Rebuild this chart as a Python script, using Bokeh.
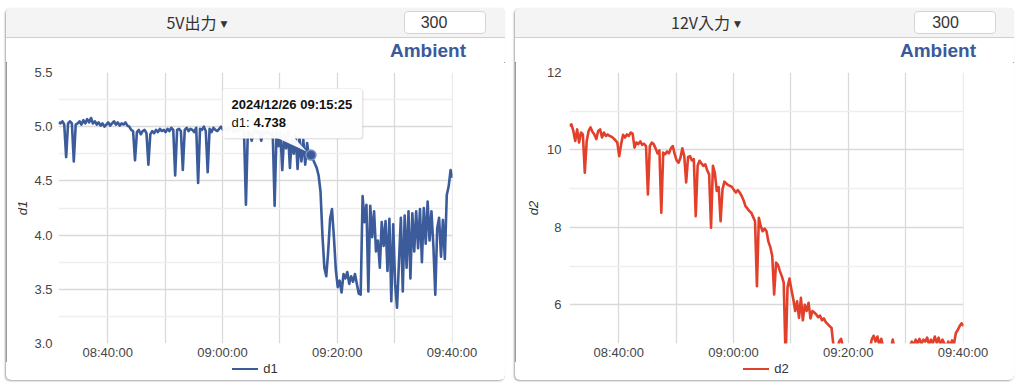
import pandas as pd
from bokeh.plotting import figure
from bokeh.models import (ColumnDataSource, Range1d, FixedTicker, DatetimeTickFormatter,
                          PrintfTickFormatter, Label, BoxAnnotation,
                          PolyAnnotation, Div)
from bokeh.layouts import row, column
from bokeh.embed import file_html
from bokeh.resources import INLINE

# ---------------- data ----------------
DAY = "2024-12-26"
t_start = "08:31:25"
t_step_s = 20

d1 = [5.04, 5.03, 5.05, 5.02, 4.72, 5.03, 5.05, 5.03, 4.68, 5.02,
      5.03, 5.05, 5.02, 5.06, 5.03, 5.07, 5.04, 5.08, 5.03, 5.05,
      5.02, 5.04, 5.01, 5.03, 5.00, 5.02, 5.04, 5.01, 5.03, 5.05,
      5.02, 5.04, 5.01, 5.03, 5.02, 5.04, 5.01, 5.00, 4.97, 4.96,
      4.69, 4.95, 4.97, 4.93, 4.96, 4.97, 4.94, 4.65, 4.93, 4.96,
      4.94, 4.97, 4.95, 4.98, 4.96, 4.97, 4.95, 4.98, 4.96, 4.99,
      4.97, 4.55, 4.97, 4.98, 4.96, 4.60, 4.97, 4.99, 4.96, 4.98,
      4.97, 4.95, 4.99, 4.48, 4.98, 4.97, 5.00, 4.96, 4.58, 4.98,
      4.95, 4.99, 4.97, 4.96, 4.98, 5.00, 4.97, 4.99, 4.96, 4.98,
      5.00, 4.97, 4.95, 4.98, 4.96, 4.99, 4.97, 4.95, 4.28, 4.96,
      4.94, 4.87, 4.95, 4.97, 4.94, 4.96, 4.87, 4.95, 4.93, 4.96,
      4.94, 4.92, 4.95, 4.27, 4.95, 4.82, 4.95, 4.60, 4.93, 4.80,
      4.95, 4.62, 4.90, 4.75, 4.92, 4.61, 4.90, 4.68, 4.88, 4.65,
      4.85, 4.71, 4.738, 4.70, 4.66, 4.62, 4.55, 4.40, 4.00, 3.70,
      3.62, 3.85, 4.15, 4.24, 3.98, 3.68, 3.52, 3.58, 3.47, 3.64,
      3.60, 3.66, 3.55, 3.62, 3.57, 3.64, 3.55, 3.46, 3.45, 4.36,
      4.12, 4.28, 3.48, 4.27, 3.98, 4.22, 3.85, 3.95, 3.70, 4.12,
      3.90, 4.13, 3.67, 4.15, 3.39, 4.10, 3.55, 3.33, 3.75, 4.16,
      3.48, 4.18, 3.70, 4.22, 3.60, 4.20, 3.85, 4.22, 3.88, 4.24,
      3.75, 4.25, 3.92, 4.31, 3.95, 4.22, 3.90, 3.45, 4.06, 4.16,
      3.80, 4.14, 3.78, 4.37, 4.45, 4.60, 4.53]

d2 = [10.62, 10.66, 10.49, 10.23, 10.53, 10.19, 10.45, 10.40, 9.41, 10.23,
      10.49, 10.58, 10.47, 10.40, 10.28, 10.49, 10.53, 10.32, 10.45, 10.36,
      10.40, 10.36, 10.34, 10.30, 10.25, 10.19, 9.84, 10.15, 10.39, 10.32,
      10.40, 10.36, 10.45, 10.42, 10.06, 10.19, 10.15, 10.22, 10.13, 10.16,
      10.10, 8.85, 10.10, 10.19, 10.15, 10.04, 9.91, 9.99, 8.38, 9.93,
      9.89, 9.96, 9.91, 10.04, 10.10, 9.89, 9.73, 9.67, 9.80, 10.04,
      9.84, 9.16, 9.82, 9.84, 9.73, 9.76, 8.29, 9.59, 9.72, 9.65,
      9.59, 9.63, 9.47, 9.37, 7.99, 9.59, 9.41, 8.94, 9.04, 8.16,
      8.98, 9.18, 9.13, 9.09, 9.07, 9.04, 8.96, 8.90, 8.96, 8.90,
      8.81, 8.70, 8.55, 8.49, 8.42, 8.38, 8.27, 8.16, 6.48, 8.25,
      8.03, 7.90, 7.97, 7.90, 7.63, 7.49, 7.26, 6.27, 7.09, 7.03,
      6.87, 6.74, 6.57, 4.60, 6.45, 6.68, 6.40, 6.15, 5.84, 6.09,
      5.66, 6.18, 5.60, 6.00, 5.84, 6.05, 5.65, 5.84, 5.80, 5.75,
      5.68, 5.72, 5.60, 5.65, 5.55, 5.50, 5.45, 5.40, 4.95, 4.75,
      4.85, 5.05, 5.12, 4.90, 4.70, 4.70, 4.80, 4.65, 4.75, 4.80,
      4.70, 4.85, 4.75, 4.80, 4.70, 4.75, 4.80, 4.85, 5.10, 5.20,
      5.05, 5.18, 4.95, 5.12, 4.90, 4.85, 4.80, 4.90, 4.85, 5.10,
      4.85, 4.80, 4.85, 4.75, 4.80, 4.85, 4.90, 4.90, 4.95, 5.05,
      4.95, 5.10, 5.00, 5.12, 4.98, 5.10, 5.05, 5.15, 4.97, 5.10,
      5.00, 5.18, 5.02, 5.15, 4.95, 5.10, 5.00, 4.90, 5.05, 4.95,
      5.08, 4.98, 5.27, 5.35, 5.45, 5.52, 5.45]

x_tick_labels = ["08:40:00", "09:00:00", "09:20:00", "09:40:00"]
x_grid_labels = ["08:40:00", "08:50:00", "09:00:00", "09:10:00",
                 "09:20:00", "09:30:00", "09:40:00"]
d1_ticks = [3.0, 3.5, 4.0, 4.5, 5.0, 5.5]
d1_minor = [3.25, 3.75, 4.25, 4.75, 5.25]
d2_ticks = [6, 8, 10, 12]
d2_minor = [5, 7, 9, 11]
panel_titles = ["5V出力", "12V入力"]
count_text = "300"
brand = "Ambient"
hover_time = "09:15:25"
hover_value = 4.738

# ---------------- styling ----------------
BLUE = "#3b5b9a"
RED = "#e2402a"
BRAND = "#3a5a9c"
FONT = "Liberation Sans"
CJK = "Noto Sans CJK JP"
W = 499
HEAD_H = 54
FIG_TOP = 10
FIG_BOTTOM = 19
FRAME_H = 271
FIG_H = FIG_TOP + FRAME_H + FIG_BOTTOM
LEG_H = 18


def ms(hms):
    return pd.Timestamp(f"{DAY} {hms}").value / 1e6


def header(title, box_left, text_shift, brand_right):
    html = (
        f'<div style="position:relative;width:{W}px;height:{HEAD_H}px;background:#fff;">'
        f'<div style="position:absolute;left:0;top:0;width:{W}px;height:30px;box-sizing:border-box;'
        f'background:#f4f4f4;border-bottom:1px solid #cfcfcf;"></div>'
        f'<div style="position:absolute;left:0;top:0;width:382px;height:29px;line-height:29px;'
        f'text-align:center;font-family:\'{CJK}\';font-size:16px;color:#333;white-space:nowrap;">'
        f'{title}<span style="font-family:\'DejaVu Sans\';font-size:9px;margin-left:4px;'
        f'vertical-align:2px;">&#9660;</span></div>'
        f'<div style="position:absolute;left:{box_left}px;top:3px;width:82px;height:23px;'
        f'box-sizing:border-box;background:#fff;border:1px solid #d4d4d4;border-radius:4px;'
        f'font-family:\'{FONT}\';font-size:16px;line-height:21px;color:#333;text-align:center;'
        f'padding-right:{text_shift}px;">{count_text}</div>'
        f'<div style="position:absolute;right:{W - brand_right}px;top:33px;height:19px;'
        f'line-height:19px;font-family:\'{FONT}\';font-size:19px;font-weight:bold;'
        f'color:{BRAND};white-space:nowrap;">{brand}</div>'
        f'</div>'
    )
    return Div(text=html, width=W, height=HEAD_H, margin=0)


def legend_div(name, color, frame_l, frame_r):
    html = (
        f'<div style="position:relative;width:{W}px;height:{LEG_H}px;background:#fff;">'
        f'<div style="position:absolute;left:{frame_l}px;width:{frame_r - frame_l}px;top:0;'
        f'height:14px;display:flex;align-items:center;justify-content:center;">'
        f'<span style="display:inline-block;width:26px;height:0;'
        f'border-top:2.6px solid {color};margin-right:5px;"></span>'
        f'<span style="font-family:\'{FONT}\';font-size:13px;color:#333;">{name}</span>'
        f'</div></div>'
    )
    return Div(text=html, width=W, height=LEG_H, margin=0)


def make_panel(name, values, color, y_lo, y_hi, ticks, minor, fmt,
               frame_l, frame_r, label_standoff, axis_label_standoff):
    times = pd.date_range(pd.Timestamp(f"{DAY} {t_start}"), periods=len(values),
                          freq=f"{t_step_s}s")
    src = ColumnDataSource(dict(t=times, v=values))
    p = figure(width=W, height=FIG_H, x_axis_type="datetime",
               x_range=Range1d(times[0], times[-1]), y_range=Range1d(y_lo, y_hi),
               output_backend="svg", toolbar_location=None, title=None,
               min_border_left=frame_l, min_border_right=W - frame_r,
               min_border_top=FIG_TOP, min_border_bottom=FIG_BOTTOM, margin=0)
    p.background_fill_color = "white"
    p.border_fill_color = "white"
    p.outline_line_color = None

    for ax in (p.xaxis[0], p.yaxis[0]):
        ax.axis_line_color = None
        ax.major_tick_line_color = None
        ax.minor_tick_line_color = None
        ax.major_tick_out = 0
        ax.major_tick_in = 0
        ax.minor_tick_out = 0
        ax.minor_tick_in = 0
        ax.major_label_text_font = FONT
        ax.major_label_text_font_size = "13px"
        ax.major_label_text_color = "#444444"
    p.xaxis.ticker = FixedTicker(ticks=[ms(s) for s in x_tick_labels])
    p.xaxis.formatter = DatetimeTickFormatter(
        seconds="%H:%M:%S", minsec="%H:%M:%S", minutes="%H:%M:%S",
        hourmin="%H:%M:%S", hours="%H:%M:%S")
    p.xaxis.major_label_standoff = 1
    p.xgrid.ticker = FixedTicker(ticks=[ms(s) for s in x_grid_labels])
    p.xgrid.grid_line_color = "#d9d9d9"
    p.xgrid.grid_line_width = 1.3

    yt = FixedTicker(ticks=ticks, minor_ticks=minor)
    p.yaxis.ticker = yt
    p.ygrid.ticker = yt
    p.yaxis.formatter = PrintfTickFormatter(format=fmt)
    p.yaxis.major_label_standoff = label_standoff
    p.yaxis.axis_label = name
    p.yaxis.axis_label_text_font = FONT
    p.yaxis.axis_label_text_font_style = "italic"
    p.yaxis.axis_label_text_font_size = "13px"
    p.yaxis.axis_label_text_color = "#333333"
    p.yaxis.axis_label_standoff = axis_label_standoff
    p.ygrid.grid_line_color = "#d9d9d9"
    p.ygrid.grid_line_width = 1.3
    p.ygrid.minor_grid_line_color = "#eeeeee"
    p.ygrid.minor_grid_line_width = 1.3

    p.line("t", "v", source=src, line_color=color, line_width=2.6, line_join="round")
    return p


p1 = make_panel("d1", d1, BLUE, 3.0, 5.5, d1_ticks, d1_minor, "%.1f",
                52, 446, 6, 1)
p2 = make_panel("d2", d2, RED, 5, 12, d2_ticks, d2_minor, "%d",
                54, 448, 8, 3)

# hovered point + tooltip on the first panel (screen units: px from frame bottom-left)
hover_src = ColumnDataSource(dict(t=[pd.Timestamp(f"{DAY} {hover_time}")],
                                  v=[hover_value]))
p1.scatter("t", "v", source=hover_src, size=10, fill_color=BLUE,
           line_color="#7d92c0", line_width=1.5)


def sbox(l, r, t, b, **kw):
    return BoxAnnotation(left=l, right=r, top=t, bottom=b, left_units="screen",
                         right_units="screen", top_units="screen",
                         bottom_units="screen", **kw)


def slabel(x, y, text, **kw):
    return Label(x=x, y=y, x_units="screen", y_units="screen", text=text,
                 text_font=FONT, text_font_size="13px", text_color="#111111",
                 text_baseline="middle", **kw)


p1.add_layout(sbox(165, 305, 254, 204, fill_color="#000000", fill_alpha=0.10,
                   line_color=None, border_radius=3))
p1.add_layout(sbox(164, 304, 255, 205, fill_color="white", fill_alpha=0.96,
                   line_color="#cccccc", line_width=1, border_radius=3))
p1.add_layout(PolyAnnotation(xs=[219, 236, 248], ys=[205.5, 205.5, 192],
                             xs_units="screen", ys_units="screen",
                             fill_color="white", fill_alpha=0.96, line_color=None))
p1.add_layout(slabel(173, 239, f"{DAY.replace('-', '/')} {hover_time}",
                     text_font_style="bold"))
p1.add_layout(slabel(173, 221, "d1: "))
p1.add_layout(slabel(195, 221, f"{hover_value:.3f}", text_font_style="bold"))

panel_style = {"outline": "1.5px solid #7a7a7a", "outline-offset": "-1.5px",
               "border-radius": "5px", "overflow": "hidden",
               "box-shadow": "-1px 1px 2px rgba(0,0,0,0.35)"}
col1 = column(header(panel_titles[0], 398, 22, 460), p1,
              legend_div("d1", BLUE, 52, 446), spacing=0, styles=panel_style)
col2 = column(header(panel_titles[1], 399, 19, 461), p2,
              legend_div("d2", RED, 54, 448), spacing=0, styles=panel_style)
layout = row(col1, col2, spacing=10, margin=(8, 0, 0, 6))
open("out.html", "w").write(file_html(layout, INLINE))
